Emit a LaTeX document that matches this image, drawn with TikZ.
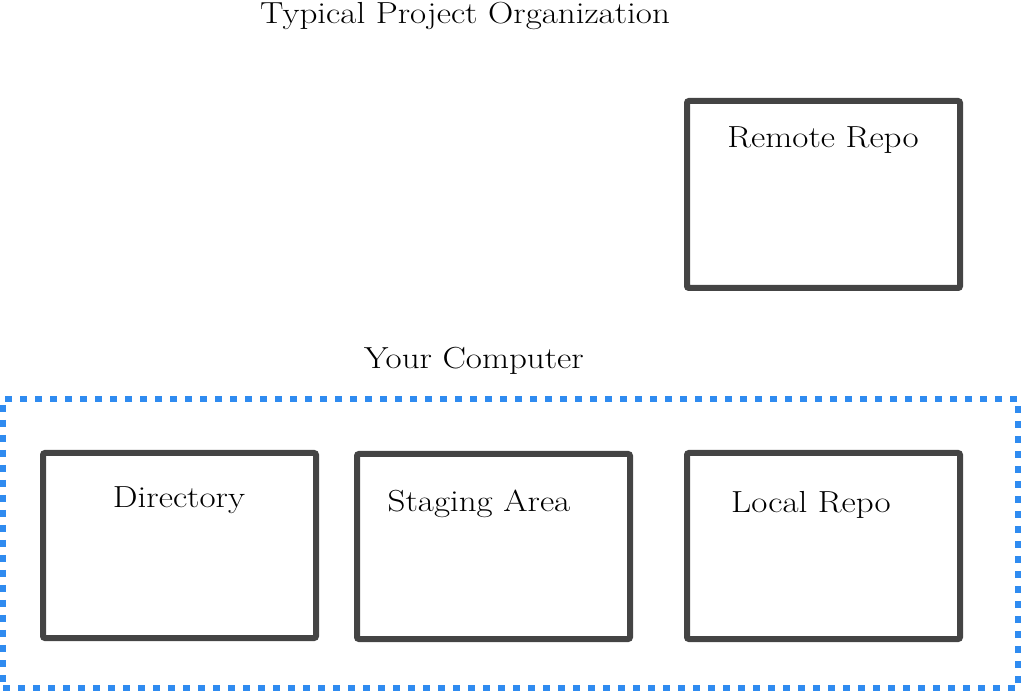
\documentclass[tikz,border=0pt]{standalone}
\newcommand{\squash}[1]{\scalebox{1}[0.87]{#1}}
\begin{document}
\begin{tikzpicture}[x=1pt,y=-1pt,
  box/.style={draw=boxgray,line width=6pt,rounded corners=2pt,minimum width=273pt,minimum height=186pt,inner sep=0pt},
  lbl/.style={font=\fontsize{35}{42}\selectfont,anchor=base,inner sep=0pt},
  area/.style={draw=areablue,line width=6pt,dash pattern=on 7pt off 8pt,minimum width=1015pt,minimum height=289pt,inner sep=0pt}]
\definecolor{boxgray}{HTML}{444444}
\definecolor{areablue}{HTML}{2F8BF0}
\useasboundingbox (0,0) rectangle (1021,692);
\node[area] (computer) at (510.5,543.5) {};
\node[box,minimum height=187pt] (remote) at (823.5,194.5) {};
\node[box,minimum height=185pt] (directory) at (179.5,545.5) {};
\node[box,minimum height=185pt] (staging) at (493.5,546.5) {};
\node[box] (local) at (823.5,546) {};
\node[lbl] (title) at (465,23.5) {\squash{Typical Project Organization}};
\node[lbl] (remotet) at (823,147.3) {\squash{Remote Repo}};
\node[lbl] (comp) at (474,369) {\squash{Your Computer}};
\node[lbl] (dir) at (179,507.3) {\squash{Directory}};
\node[lbl] (stag) at (479,511.7) {\squash{Staging Area}};
\node[lbl] (loc) at (811,512.3) {\squash{Local Repo}};
\end{tikzpicture}
\end{document}
